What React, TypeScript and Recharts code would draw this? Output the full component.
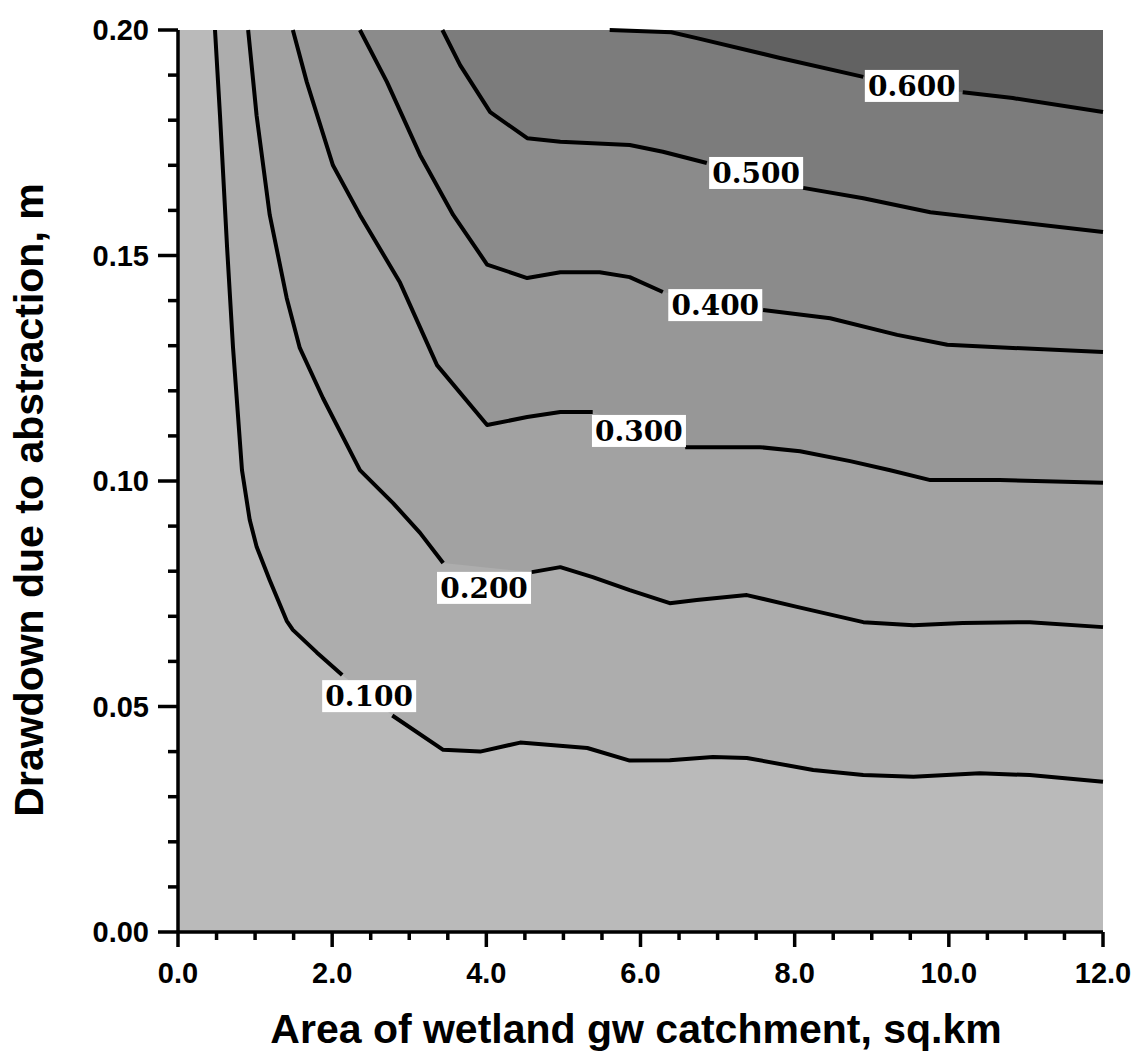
import React from "react";
import { Area, ComposedChart, Line, Scatter, XAxis, YAxis } from "recharts";

type Pt = [number, number] | null;

// Contour lines (x = area sq.km, y = drawdown m).
// null = where the line is broken for its label
const contour010: Pt[] = [
  [0.48, 0.2], [0.545, 0.181], [0.636, 0.152], [0.714, 0.1295], [0.83, 0.1024],
  [0.93, 0.0914], [1.02, 0.0854], [1.19, 0.078], [1.41, 0.069], [1.49, 0.067],
  [1.8, 0.062], [2.13, 0.057], null, [2.78, 0.048], [3.44, 0.0404], [3.92, 0.04],
  [4.44, 0.042], [5.31, 0.0408], [5.86, 0.038], [6.38, 0.0381], [6.94, 0.0388],
  [7.38, 0.0386], [8.24, 0.0359], [8.89, 0.0348], [9.54, 0.0344], [10.4, 0.0352],
  [11.05, 0.0348], [12, 0.0333],
];
const contour020: Pt[] = [
  [0.91, 0.2], [1.02, 0.181], [1.19, 0.159], [1.41, 0.1406], [1.58, 0.1295],
  [1.88, 0.1184], [2.36, 0.1024], [2.79, 0.0951], [3.14, 0.0885], [3.44, 0.0818],
  null, [4.59, 0.0798], [4.96, 0.0809], [5.38, 0.0787], [5.86, 0.0758],
  [6.38, 0.0729], [6.73, 0.0736], [7.38, 0.0747], [8.03, 0.0721], [8.89, 0.0687],
  [9.54, 0.068], [10.18, 0.0685], [11.05, 0.0687], [12, 0.0676],
];
const contour030: Pt[] = [
  [1.49, 0.2], [1.67, 0.1885], [2.01, 0.17], [2.36, 0.159], [2.88, 0.144],
  [3.36, 0.1257], [4.01, 0.1124], [4.53, 0.1142], [4.96, 0.1153], [5.38, 0.1153],
  null, [6.58, 0.1075], [7.55, 0.1075], [8.07, 0.1066], [8.72, 0.1044],
  [9.24, 0.1024], [9.76, 0.1002], [10.66, 0.1002], [12, 0.0996],
];
const contour040: Pt[] = [
  [2.36, 0.2], [2.71, 0.1885], [3.14, 0.1723], [3.57, 0.159], [4.01, 0.148],
  [4.53, 0.145], [4.96, 0.1463], [5.47, 0.1463], [5.86, 0.1452], [6.29, 0.1419],
  null, [7.59, 0.1379], [8.46, 0.1361], [9.33, 0.1324], [9.98, 0.1302],
  [10.83, 0.1295], [12, 0.1286],
];
const contour050: Pt[] = [
  [3.43, 0.2], [3.66, 0.1922], [4.05, 0.1818], [4.53, 0.176], [4.96, 0.1752],
  [5.86, 0.1745], [6.29, 0.173], [6.86, 0.1705], null, [8.11, 0.165],
  [8.89, 0.1627], [9.76, 0.1596], [10.62, 0.1579], [12, 0.1552],
];
const contour060: Pt[] = [
  [5.6, 0.2], [6.4, 0.1995], [6.73, 0.1982], [7.81, 0.1938], [8.89, 0.1896],
  null, [10.18, 0.1862], [10.83, 0.1849], [12, 0.1818],
];

const contours = [contour010, contour020, contour030, contour040, contour050, contour060];
const contourLevels = ["0.100", "0.200", "0.300", "0.400", "0.500", "0.600"];
const labelX = [2.48, 3.97, 5.98, 6.97, 7.5, 9.52];
const labelY = [0.0523, 0.0763, 0.1111, 0.139, 0.1683, 0.1876];

// band below each contour, lightest first; last one is above 0.600
const bandFills = ["#bababa", "#adadad", "#a2a2a2", "#979797", "#8b8b8b", "#7c7c7c", "#626262"];

const xTicks = [0, 0.5, 1, 1.5, 2, 2.5, 3, 3.5, 4, 4.5, 5, 5.5, 6, 6.5, 7, 7.5, 8, 8.5, 9, 9.5, 10, 10.5, 11, 11.5, 12];
const yTicks = [0, 0.01, 0.02, 0.03, 0.04, 0.05, 0.06, 0.07, 0.08, 0.09, 0.1, 0.11, 0.12, 0.13, 0.14, 0.15, 0.16, 0.17, 0.18, 0.19, 0.2];

const W = 1135;
const H = 1057;
const sans = "'Liberation Sans', Arial, Helvetica, sans-serif";
const serif = "'DejaVu Serif', 'Liberation Serif', serif";

const toArea = (c: Pt[]) => [
  { x: 0, y: 0.2 },
  ...c.filter((p): p is [number, number] => p !== null).map(([x, y]) => ({ x, y })),
];
const toLine = (c: Pt[]) =>
  c.map((p, i) => (p ? { x: p[0], y: p[1] } : { x: (c[i - 1] as [number, number])[0], y: null }));

const labelData = labelX.map((x, i) => ({ x, y: labelY[i], text: contourLevels[i] }));

function XTick(props: any) {
  const { x, y, payload } = props;
  const v = payload.value as number;
  const major = Math.abs(v / 2 - Math.round(v / 2)) < 1e-6;
  return (
    <g>
      <line x1={x} x2={x} y1={y} y2={y + (major ? 15 : 8)} stroke="#000" strokeWidth={3.5} />
      {major && (
        <text x={x} y={y + 51} textAnchor="middle" fontFamily={sans} fontWeight="bold" fontSize={29} fill="#000">
          {v.toFixed(1)}
        </text>
      )}
    </g>
  );
}

function YTick(props: any) {
  const { x, y, payload } = props;
  const v = payload.value as number;
  const major = Math.round(v * 100) % 5 === 0;
  return (
    <g>
      <line x1={x - (major ? 20 : 10)} x2={x} y1={y} y2={y} stroke="#000" strokeWidth={3.5} />
      {major && (
        <text x={x - 29} y={y + 10} textAnchor="end" fontFamily={sans} fontWeight="bold" fontSize={29} fill="#000">
          {v.toFixed(2)}
        </text>
      )}
    </g>
  );
}

function ContourLabel(props: any) {
  const { cx, cy, payload } = props;
  return (
    <g>
      <rect x={cx - 47} y={cy - 16} width={94} height={32} fill="#fff" />
      <text x={cx} y={cy + 10} textAnchor="middle" fontFamily={serif} fontWeight="bold" fontSize={28} fill="#000">
        {payload.text}
      </text>
    </g>
  );
}

export default function App() {
  return (
    <div style={{ position: "absolute", left: 0, top: 0, width: W, height: H, background: "#fff" }}>
      <ComposedChart width={W} height={H} margin={{ top: 30, right: 32, bottom: 0, left: 0 }}>
        <XAxis
          dataKey="x"
          type="number"
          domain={[0, 12]}
          ticks={xTicks}
          interval={0}
          height={125}
          tickSize={0}
          tickMargin={0}
          tick={<XTick />}
          axisLine={{ stroke: "#000", strokeWidth: 3.5 }}
          label={{
            content: () => (
              <text x={636} y={1043} textAnchor="middle" fontFamily={sans} fontWeight="bold" fontSize={41} fill="#000">
                Area of wetland gw catchment, sq.km
              </text>
            ),
          }}
        />
        <XAxis xAxisId="top" orientation="top" type="number" domain={[0, 12]} height={0} tick={false} tickLine={false} axisLine={{ stroke: "#000", strokeWidth: 3.5 }} />
        <YAxis
          dataKey="y"
          type="number"
          domain={[0, 0.2]}
          ticks={yTicks}
          interval={0}
          width={178}
          tickSize={0}
          tickMargin={0}
          tick={<YTick />}
          axisLine={{ stroke: "#000", strokeWidth: 3.5 }}
          label={{
            content: () => (
              <text
                x={43}
                y={500}
                transform="rotate(-90 43 500)"
                textAnchor="middle"
                fontFamily={sans}
                fontWeight="bold"
                fontSize={41}
                fill="#000"
              >
                Drawdown due to abstraction, m
              </text>
            ),
          }}
        />
        <YAxis yAxisId="right" orientation="right" type="number" domain={[0, 0.2]} width={0} tick={false} tickLine={false} axisLine={{ stroke: "#000", strokeWidth: 3.5 }} />

        {/* darkest band fills the whole plot, each contour then paints the band under it */}
        <Area data={[{ x: 0, y: 0.2 }, { x: 12, y: 0.2 }]} dataKey="y" type="linear" stroke="none" fill={bandFills[6]} fillOpacity={1} isAnimationActive={false} />
        {[5, 4, 3, 2, 1, 0].map((i) => (
          <Area
            key={`a${i}`}
            data={toArea(contours[i])}
            dataKey="y"
            type="linear"
            stroke="none"
            fill={bandFills[i]}
            fillOpacity={1}
            isAnimationActive={false}
          />
        ))}
        {contours.map((c, i) => (
          <Line
            key={`l${i}`}
            data={toLine(c)}
            dataKey="y"
            type="linear"
            stroke="#000"
            strokeWidth={4}
            strokeLinejoin="round"
            dot={false}
            activeDot={false}
            connectNulls={false}
            isAnimationActive={false}
          />
        ))}
        <Scatter data={labelData} dataKey="y" shape={(p: any) => <ContourLabel {...p} />} isAnimationActive={false} />
      </ComposedChart>
    </div>
  );
}
